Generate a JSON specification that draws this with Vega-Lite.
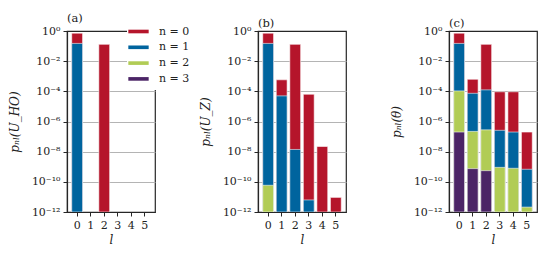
{
  "$schema": "https://vega.github.io/schema/vega-lite/v6.json",
  "padding": {"left": 7, "top": 11, "right": 5, "bottom": 5},
  "bounds": "flush",
  "spacing": 103,
  "background": "white",
  "config": {
    "font": "DejaVu Serif",
    "view": {"stroke": "#262626", "strokeWidth": 1.2},
    "axis": {
      "labelFont": "DejaVu Serif", "labelFontSize": 11, "labelColor": "#222222",
      "titleFont": "DejaVu Serif", "titleFontWeight": "normal", "titleFontStyle": "italic",
      "titleFontSize": 12, "titleColor": "#222222",
      "domainColor": "#262626", "domainWidth": 1.2,
      "tickColor": "#262626", "tickSize": 4, "tickWidth": 1,
      "gridColor": "#b4b4b4", "gridWidth": 1, "zindex": 1
    },
    "title": {"font": "DejaVu Serif", "fontSize": 11.5, "fontWeight": "normal", "anchor": "start", "frame": "group", "offset": -4, "color": "#222222"}
  },
  "resolve": {"legend": {"color": "independent"}},
  "datasets": {
    "a": [
      {"l": 0, "n": "n = 0", "p": 0.72},
      {"l": 2, "n": "n = 0", "p": 0.13},
      {"l": 0, "n": "n = 1", "p": 0.15}
    ],
    "b": [
      {"l": 0, "n": "n = 0", "p": 0.72},
      {"l": 1, "n": "n = 0", "p": 5.8e-4},
      {"l": 2, "n": "n = 0", "p": 0.13},
      {"l": 3, "n": "n = 0", "p": 6.4e-5},
      {"l": 4, "n": "n = 0", "p": 2.2e-8},
      {"l": 5, "n": "n = 0", "p": 9.3e-12},
      {"l": 0, "n": "n = 1", "p": 0.15},
      {"l": 1, "n": "n = 1", "p": 5e-5},
      {"l": 2, "n": "n = 1", "p": 1.4e-8},
      {"l": 3, "n": "n = 1", "p": 6.3e-12},
      {"l": 0, "n": "n = 2", "p": 5.9e-11}
    ],
    "c": [
      {"l": 0, "n": "n = 0", "p": 0.72},
      {"l": 1, "n": "n = 0", "p": 6.3e-4},
      {"l": 2, "n": "n = 0", "p": 0.13},
      {"l": 3, "n": "n = 0", "p": 9.3e-5},
      {"l": 4, "n": "n = 0", "p": 9.3e-5},
      {"l": 5, "n": "n = 0", "p": 2.0e-7},
      {"l": 0, "n": "n = 1", "p": 0.15},
      {"l": 1, "n": "n = 1", "p": 7.4e-5},
      {"l": 2, "n": "n = 1", "p": 1.25e-4},
      {"l": 3, "n": "n = 1", "p": 2.6e-7},
      {"l": 4, "n": "n = 1", "p": 2.0e-7},
      {"l": 5, "n": "n = 1", "p": 6.8e-10},
      {"l": 0, "n": "n = 2", "p": 1.07e-4},
      {"l": 1, "n": "n = 2", "p": 2.2e-7},
      {"l": 2, "n": "n = 2", "p": 2.8e-7},
      {"l": 3, "n": "n = 2", "p": 9.1e-10},
      {"l": 4, "n": "n = 2", "p": 7.9e-10},
      {"l": 5, "n": "n = 2", "p": 2.1e-12},
      {"l": 0, "n": "n = 3", "p": 2.0e-7},
      {"l": 1, "n": "n = 3", "p": 7.5e-10},
      {"l": 2, "n": "n = 3", "p": 5.5e-10}
    ]
  },
  "hconcat": [
    {
      "width": 88, "height": 181,
      "title": {"text": "(a)"},
      "data": {"name": "a"},
      "mark": {"type": "bar", "stroke": "white", "strokeWidth": 0.8, "strokeOpacity": 0.7, "clip": true},
      "encoding": {
        "x": {"field": "l", "type": "ordinal", "scale": {"domain": [0, 1, 2, 3, 4, 5], "paddingInner": 0.2, "paddingOuter": 0.35},
              "axis": {"title": "l", "labelAngle": 0, "grid": false, "labelPadding": 3, "titlePadding": 4}},
        "y": {"field": "p", "type": "quantitative", "stack": null, "scale": {"type": "log", "domain": [1e-12, 1]},
              "axis": {"title": "pₙₗ(U_HO)", "values": [1, 1e-2, 1e-4, 1e-6, 1e-8, 1e-10, 1e-12], "grid": true,
                       "gridOpacity": {"condition": {"test": "datum.value > 0.5 || datum.value < 1e-11", "value": 0}, "value": 1},
                       "labelExpr": "round(log(datum.value)/LN10) == 0 ? '10⁰' : round(log(datum.value)/LN10) == -2 ? '10⁻²' : round(log(datum.value)/LN10) == -4 ? '10⁻⁴' : round(log(datum.value)/LN10) == -6 ? '10⁻⁶' : round(log(datum.value)/LN10) == -8 ? '10⁻⁸' : round(log(datum.value)/LN10) == -10 ? '10⁻¹⁰' : '10⁻¹²'",
                       "labelPadding": 3, "titlePadding": 10}},
        "y2": {"datum": 1e-12},
        "color": {"field": "n", "type": "nominal",
                  "scale": {"domain": ["n = 0", "n = 1", "n = 2", "n = 3"], "range": ["#b5152b", "#00649e", "#b1cc55", "#4b2466"]},
                  "legend": {"orient": "none", "legendX": 60, "legendY": -11, "title": null, "fillColor": "white", "padding": 6,
                             "symbolType": "M-1.85,-0.33L1.85,-0.33L1.85,0.33L-1.85,0.33Z", "symbolSize": 121, "symbolStrokeWidth": 0, "symbolOpacity": 1,
                             "labelFont": "DejaVu Serif", "labelFontSize": 11, "labelColor": "#222222", "labelOffset": 15, "rowPadding": 3.8, "zindex": 2}}
      }
    },
    {
      "width": 88, "height": 181,
      "title": {"text": "(b)"},
      "data": {"name": "b"},
      "mark": {"type": "bar", "stroke": "white", "strokeWidth": 0.8, "strokeOpacity": 0.7, "clip": true},
      "encoding": {
        "x": {"field": "l", "type": "ordinal", "scale": {"domain": [0, 1, 2, 3, 4, 5], "paddingInner": 0.2, "paddingOuter": 0.35},
              "axis": {"title": "l", "labelAngle": 0, "grid": false, "labelPadding": 3, "titlePadding": 4}},
        "y": {"field": "p", "type": "quantitative", "stack": null, "scale": {"type": "log", "domain": [1e-12, 1]},
              "axis": {"title": "pₙₗ(U_Z)", "values": [1, 1e-2, 1e-4, 1e-6, 1e-8, 1e-10, 1e-12], "grid": true,
                       "gridOpacity": {"condition": {"test": "datum.value > 0.5 || datum.value < 1e-11", "value": 0}, "value": 1},
                       "labelExpr": "round(log(datum.value)/LN10) == 0 ? '10⁰' : round(log(datum.value)/LN10) == -2 ? '10⁻²' : round(log(datum.value)/LN10) == -4 ? '10⁻⁴' : round(log(datum.value)/LN10) == -6 ? '10⁻⁶' : round(log(datum.value)/LN10) == -8 ? '10⁻⁸' : round(log(datum.value)/LN10) == -10 ? '10⁻¹⁰' : '10⁻¹²'",
                       "labelPadding": 3, "titlePadding": 10}},
        "y2": {"datum": 1e-12},
        "color": {"field": "n", "type": "nominal",
                  "scale": {"domain": ["n = 0", "n = 1", "n = 2", "n = 3"], "range": ["#b5152b", "#00649e", "#b1cc55", "#4b2466"]},
                  "legend": null}
      }
    },
    {
      "width": 88, "height": 181,
      "title": {"text": "(c)"},
      "data": {"name": "c"},
      "mark": {"type": "bar", "stroke": "white", "strokeWidth": 0.8, "strokeOpacity": 0.7, "clip": true},
      "encoding": {
        "x": {"field": "l", "type": "ordinal", "scale": {"domain": [0, 1, 2, 3, 4, 5], "paddingInner": 0.2, "paddingOuter": 0.35},
              "axis": {"title": "l", "labelAngle": 0, "grid": false, "labelPadding": 3, "titlePadding": 4}},
        "y": {"field": "p", "type": "quantitative", "stack": null, "scale": {"type": "log", "domain": [1e-12, 1]},
              "axis": {"title": "pₙₗ(θ)", "values": [1, 1e-2, 1e-4, 1e-6, 1e-8, 1e-10, 1e-12], "grid": true,
                       "gridOpacity": {"condition": {"test": "datum.value > 0.5 || datum.value < 1e-11", "value": 0}, "value": 1},
                       "labelExpr": "round(log(datum.value)/LN10) == 0 ? '10⁰' : round(log(datum.value)/LN10) == -2 ? '10⁻²' : round(log(datum.value)/LN10) == -4 ? '10⁻⁴' : round(log(datum.value)/LN10) == -6 ? '10⁻⁶' : round(log(datum.value)/LN10) == -8 ? '10⁻⁸' : round(log(datum.value)/LN10) == -10 ? '10⁻¹⁰' : '10⁻¹²'",
                       "labelPadding": 3, "titlePadding": 10}},
        "y2": {"datum": 1e-12},
        "color": {"field": "n", "type": "nominal",
                  "scale": {"domain": ["n = 0", "n = 1", "n = 2", "n = 3"], "range": ["#b5152b", "#00649e", "#b1cc55", "#4b2466"]},
                  "legend": null}
      }
    }
  ]
}
